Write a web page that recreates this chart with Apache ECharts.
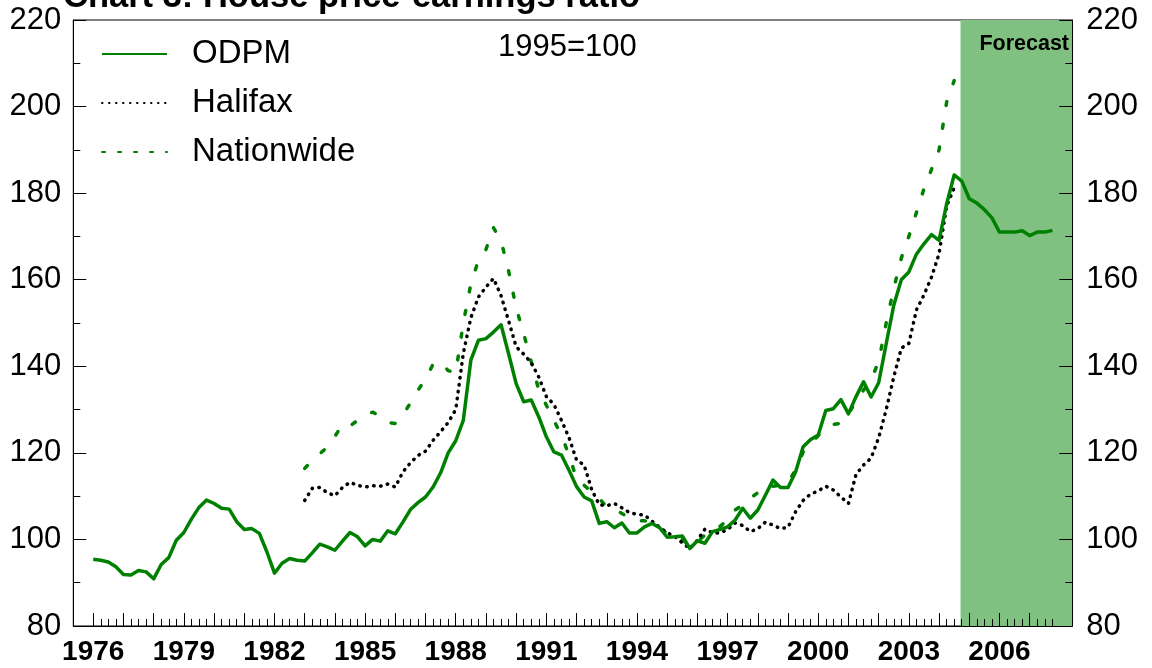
<!DOCTYPE html>
<html><head><meta charset="utf-8">
<script src="https://cdn.jsdelivr.net/npm/echarts@6/dist/echarts.min.js"></script>
<style>html,body{margin:0;padding:0;background:#fff}#c{width:1152px;height:668px}</style>
</head><body><div id="c"></div>
<script>
// ---- data (quarterly, 1995=100) ----
const odpmStart = 1976;
const odpm = [
  95.4, 95.2, 94.8, 93.7,  91.9, 91.8, 92.8, 92.5,  90.9, 94.2, 95.8, 99.8,
  101.6, 104.7, 107.4, 109.1,  108.3, 107.2, 107.0, 104.1,  102.3, 102.5, 101.4, 97.1,
  92.2, 94.5, 95.6, 95.2,  95.0, 96.9, 98.9, 98.3,  97.5, 99.6, 101.6, 100.6,
  98.5, 100.0, 99.6, 102.0,  101.3, 104.0, 106.9, 108.5,  109.8, 112.1, 115.4, 120.0,
  122.8, 127.5, 141.4, 146.0,  146.4, 147.9, 149.6, 142.9,  136.0, 131.8, 132.2, 128.3,
  123.7, 120.2, 119.5, 116.0,  112.2, 109.8, 108.9, 103.7,  104.1, 102.7, 103.8, 101.5,
  101.5, 102.9, 103.7, 102.7,  100.5, 100.6, 100.8, 97.9,  99.7, 99.1, 101.8, 102.3,
  102.9, 104.5, 107.2, 104.9,  106.8, 110.2, 113.7, 112.0,  112.0, 115.6, 121.4, 123.1,
  124.1, 129.8, 130.2, 132.3,  129.0, 133.0, 136.4, 132.9,  136.2, 145.2, 154.1, 160.0,
  161.8, 165.9, 168.3, 170.4,  169.1, 177.5, 184.2, 182.8,  178.7, 177.7, 176.2, 174.3,
  171.0, 171.0, 171.0, 171.3,  170.2, 171.0, 171.0, 171.4
];
const halifaxStart = 1983;
const halifax = [
  109.0, 111.8, 112.0, 110.8,  110.1, 112.0, 113.2, 112.5,  112.1, 112.4, 112.3, 112.8,
  112.1, 115.6, 117.7, 119.4,  120.4, 122.9, 124.9, 127.0,  130.0, 143.0, 151.2, 156.0,
  158.3, 160.3, 156.3, 150.5,  144.5, 142.8, 140.8, 137.5,  133.0, 131.2, 127.5, 123.5,
  118.3, 117.2, 111.5, 108.0,  107.8, 108.3, 107.3, 106.2,  105.8, 105.6, 104.2, 102.8,
  101.5, 100.7, 99.2, 97.9,  99.8, 102.4, 101.5, 101.5,  102.3, 103.8, 103.2, 101.8,
  102.5, 104.0, 103.3, 102.5,  102.8, 106.4, 109.0, 110.5,  111.2, 112.3, 111.4, 109.8,
  108.3, 115.0, 117.2, 118.8,  123.5, 130.0, 137.5, 144.2,  145.3, 153.0, 156.5, 160.6,
  166.0, 177.0, 181.2
];
const nationwideStart = 1983;
const nationwide = [
  116.4, 118.3, 119.8, 121.3,  123.8, 126.6, 126.2, 127.5,  128.8, 129.4, 128.5, 127.0,
  126.8, 128.8, 131.5, 134.5,  137.0, 140.5, 141.0, 139.0,  138.5, 150.0, 159.0, 164.5,
  167.0, 172.0, 169.0, 162.0,  153.5, 147.5, 141.0, 134.5,  131.0, 127.5, 124.0, 119.5,
  114.0, 112.5, 111.0, 109.5,  107.5, 107.0, 106.0, 105.0,  104.3, 104.3, 104.0, 102.5,
  101.5, 100.6, 100.0, 98.5,  99.5, 101.0, 102.3, 103.0,  104.5, 106.8, 108.0, 109.5,
  110.8, 112.5, 112.3, 112.5,  113.3, 116.0, 120.2, 122.0,  124.0, 125.5, 126.6, 126.8,
  129.0, 132.0, 134.5, 137.0,  141.0, 150.0, 158.0, 165.0,  170.0, 175.5, 181.0, 185.5,
  190.0, 201.0, 206.0
];
const seriesNames = ['ODPM', 'Halifax', 'Nationwide'];
const yearLabels = [1976, 1979, 1982, 1985, 1988, 1991, 1994, 1997, 2000, 2003, 2006];
const firstTickYear = 1976, lastTickYear = 2007;
const xMin = 1975.34, xMax = 2008.41;
const forecastStart = 2004.71;
const titleText = 'Chart 3: House price-earnings ratio';
const baseNote = '1995=100';
const forecastNote = 'Forecast';

// ---- helpers ----
const toPairs = (start, arr) => arr.map((v, i) => [start + i * 0.25, v]);
const yearTicks = [];
for (let y = firstTickYear; y <= lastTickYear; y++) yearTicks.push(y);
const quarterTicks = [];
for (let y = firstTickYear; y <= lastTickYear; y++) for (let q = 1; q < 4; q++) quarterTicks.push(y + q / 4);

const FONT = 'Liberation Sans, Arial, Helvetica, sans-serif';
const GREEN = '#008000';
const chart = echarts.init(document.getElementById('c'), null, { renderer: 'canvas' });

const baseX = {
  type: 'value', min: xMin, max: xMax, gridIndex: 0, position: 'bottom',
  splitLine: { show: false }, z: 10
};
chart.setOption({
  animation: false,
  backgroundColor: '#fff',
  title: {
    text: titleText, left: 58, top: -25,
    textStyle: { fontFamily: FONT, fontSize: 34.5, fontWeight: 'bold', color: '#000' }
  },
  grid: {
    left: 73.3, top: 20, right: 79.7, bottom: 42,
    show: true, borderColor: '#000', borderWidth: 1, backgroundColor: 'transparent'
  },
  legend: {
    orient: 'vertical', left: 101, top: 37, padding: 0,
    itemWidth: 65, itemHeight: 14, itemGap: 15,
    itemStyle: { opacity: 0 },
    textStyle: { fontFamily: FONT, fontSize: 33, color: '#000', padding: [0, 0, 0, 20], lineHeight: 34 },
    data: [
      { name: 'ODPM' },
      { name: 'Halifax' },
      { name: 'Nationwide', lineStyle: { type: [3, 13] } }
    ]
  },
  xAxis: [
    Object.assign({}, baseX, {
      axisLine: { show: true, lineStyle: { color: '#000', width: 1 } },
      axisTick: { show: true, inside: true, length: 13, customValues: yearTicks, lineStyle: { color: '#000', width: 1 } },
      axisLabel: {
        show: true, customValues: yearLabels, margin: 12,
        fontFamily: FONT, fontSize: 28, fontWeight: 'bold', color: '#000',
        formatter: v => String(Math.round(v))
      }
    }),
    Object.assign({}, baseX, {
      axisLine: { show: false },
      axisTick: { show: true, inside: true, length: 7, customValues: quarterTicks, lineStyle: { color: '#000', width: 1 } },
      axisLabel: { show: false }
    })
  ],
  yAxis: [0, 1].map(i => ({
    type: 'value', min: 80, max: 220, interval: 20,
    position: i === 0 ? 'left' : 'right', z: 10,
    axisLine: { show: true, lineStyle: { color: '#000', width: 1 } },
    axisTick: { show: true, inside: true, length: 13, lineStyle: { color: '#000', width: 1 } },
    minorTick: { show: true, splitNumber: 2, length: 7, lineStyle: { color: '#000', width: 1 } },
    splitLine: { show: false },
    axisLabel: { show: true, margin: i === 0 ? 12 : 14, fontFamily: FONT, fontSize: 31, color: '#000' }
  })),
  series: [
    {
      name: '_forecast', type: 'line', data: [], z: 1, silent: true,
      markArea: {
        silent: true,
        itemStyle: { color: '#80c080', opacity: 1 },
        data: [[{ xAxis: forecastStart }, { xAxis: xMax }]]
      }
    },
    {
      name: seriesNames[0], type: 'line', data: toPairs(odpmStart, odpm), z: 5,
      showSymbol: false, symbol: 'none', color: GREEN,
      lineStyle: { color: GREEN, width: 3.5, join: 'round' }
    },
    {
      name: seriesNames[1], type: 'line', data: toPairs(halifaxStart, halifax), z: 4,
      showSymbol: false, symbol: 'none', color: '#000',
      lineStyle: { color: '#000', width: 3.5, type: [0.5, 6.5], cap: 'round', join: 'round' }
    },
    {
      name: seriesNames[2], type: 'line', data: toPairs(nationwideStart, nationwide), z: 3,
      showSymbol: false, symbol: 'none', color: GREEN,
      lineStyle: { color: GREEN, width: 3.5, type: [4, 19], cap: 'round', join: 'round' }
    }
  ],
  graphic: [
    {
      type: 'text', left: 498, top: 32, z: 20,
      style: { text: baseNote, font: '31px ' + FONT, fill: '#000' }
    },
    {
      type: 'text', right: 83, top: 33, z: 20,
      style: { text: forecastNote, font: 'bold 21.5px ' + FONT, fill: '#000' }
    }
  ]
});
</script></body></html>
